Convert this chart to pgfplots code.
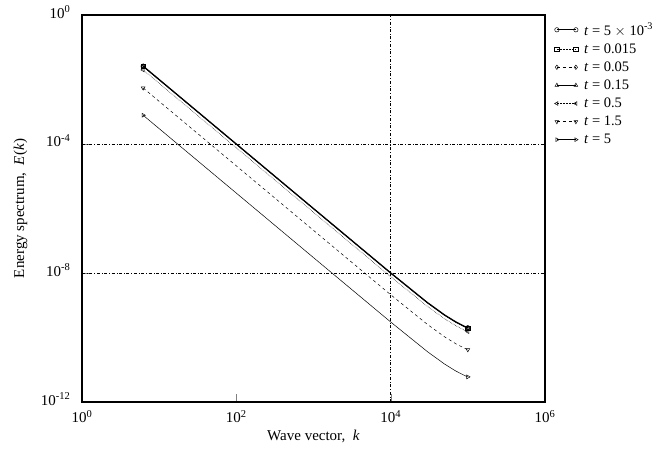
\documentclass[border=0pt]{standalone}
\usepackage{pgfplots}
\pgfplotsset{compat=1.18}
\usepackage{pgfplotstable}
\usepackage{fontspec}
\setmainfont{Liberation Serif}
\pgfplotstableread{
k      a        b        c        d        e        f        g
6.2    2.60e-2  2.55e-2  2.60e-2  2.52e-2  1.98e-2  5.46e-3  7.8e-4
10     1.00e-2  0.98e-2  1.00e-2  0.97e-2  7.6e-3   2.1e-3   3.0e-4
100    1.00e-4  0.98e-4  1.00e-4  0.97e-4  7.6e-5   2.1e-5   3.0e-6
1000   1.00e-6  0.98e-6  1.00e-6  0.97e-6  7.6e-7   2.1e-7   3.0e-8
10000  1.01e-8  0.99e-8  1.01e-8  0.98e-8  7.68e-9  2.12e-9  3.03e-10
30000  1.21e-9  1.19e-9  1.21e-9  1.17e-9  9.2e-10  2.54e-10 3.63e-11
50000  5.0e-10  4.9e-10  5.0e-10  4.85e-10 3.8e-10  1.05e-10 1.5e-11
70000  3.04e-10 2.98e-10 3.04e-10 2.95e-10 2.31e-10 6.38e-11 9.1e-12
90000  2.23e-10 2.19e-10 2.23e-10 2.16e-10 1.69e-10 4.68e-11 6.7e-12
100000 2.00e-10 1.96e-10 2.00e-10 1.94e-10 1.52e-10 4.2e-11  6.0e-12
}\spec
\begin{document}
\begin{tikzpicture}
\useasboundingbox (-82pt,-51pt) rectangle (588pt,402pt);
\begin{axis}[
  at={(0,0)}, anchor=south west,
  scale only axis, width=463pt, height=387pt,
  xmode=log, ymode=log,
  xmin=1, xmax=1e6, ymin=1e-12, ymax=1,
  xtick={1,1e2,1e4,1e6},
  xticklabels={10\textsuperscript{0},10\textsuperscript{2},10\textsuperscript{4},10\textsuperscript{6}},
  ytick={1e-12,1e-8,1e-4,1},
  yticklabels={10\textsuperscript{-12},10\textsuperscript{-8},10\textsuperscript{-4},10\textsuperscript{0}},
  minor tick style={draw=none},
  tick pos=left, tick align=inside,
  major tick length=8pt,
  axis line style={line width=1.6pt},
  tick label style={font=\fontsize{15}{17}\selectfont},
  xticklabel style={yshift=-5pt},
  yticklabel style={xshift=-8pt, yshift=3pt},
  xlabel={Wave vector, \ \textit{k}},
  ylabel={Energy spectrum, \ \textit{E}(\textit{k})},
  every axis x label/.style={at={(axis description cs:0.5,-0.09)}, anchor=center, font=\fontsize{15}{17}\selectfont},
  every axis y label/.style={at={(axis description cs:-0.133,0.5)}, rotate=90, anchor=center, font=\fontsize{15}{17}\selectfont},
  legend style={at={(1.014,0.99)}, anchor=north west, draw=none, fill=none,
    font=\fontsize{14.5}{16}\selectfont, row sep=3pt,
    /tikz/every odd column/.append style={column sep=4pt}},
  legend cell align=left,
  legend image code/.code={\draw[#1, mark indices={1,2}] plot coordinates {(0pt,0pt) (19pt,0pt)};},
  every axis plot/.append style={black, mark size=2.2pt},
  clip=false,
]
\draw[dash dot, line width=0.5pt] (axis cs:1e4,1e-12) -- (axis cs:1e4,1);
\draw[dash dot, line width=0.5pt] (axis cs:1,1e-4) -- (axis cs:1e6,1e-4);
\draw[dash dot, line width=0.5pt] (axis cs:1,1e-8) -- (axis cs:1e6,1e-8);
\addplot[line width=1.2pt, mark=o, mark options={solid, fill=white, line width=0.5pt}, mark indices={1,10}] table[x=k,y=a] {\spec};
\addlegendentry{\textit{t} = 5 $\times$ 10\textsuperscript{-3}}
\addplot[line width=0.5pt, densely dotted, mark=square, mark options={solid, fill=white, line width=0.5pt}, mark indices={1,10}] table[x=k,y=b] {\spec};
\addlegendentry{\textit{t} = 0.015}
\addplot[line width=0.5pt, dashed, mark=diamond, mark options={solid, fill=white, line width=0.5pt}, mark indices={1,10}] table[x=k,y=c] {\spec};
\addlegendentry{\textit{t} = 0.05}
\addplot[line width=0.6pt, mark=triangle, mark options={solid, fill=white, line width=0.5pt}, mark indices={1,10}] table[x=k,y=d] {\spec};
\addlegendentry{\textit{t} = 0.15}
\addplot[line width=0.5pt, densely dotted, mark=triangle, mark options={solid, fill=white, line width=0.5pt, rotate=90}, mark indices={1,10}] table[x=k,y=e] {\spec};
\addlegendentry{\textit{t} = 0.5}
\addplot[line width=0.5pt, dashed, mark=triangle, mark options={solid, fill=white, line width=0.5pt, rotate=180}, mark indices={1,10}] table[x=k,y=f] {\spec};
\addlegendentry{\textit{t} = 1.5}
\addplot[line width=0.5pt, mark=triangle, mark options={solid, fill=white, line width=0.5pt, rotate=270}, mark indices={1,10}] table[x=k,y=g] {\spec};
\addlegendentry{\textit{t} = 5}
\end{axis}
\end{tikzpicture}
\end{document}
